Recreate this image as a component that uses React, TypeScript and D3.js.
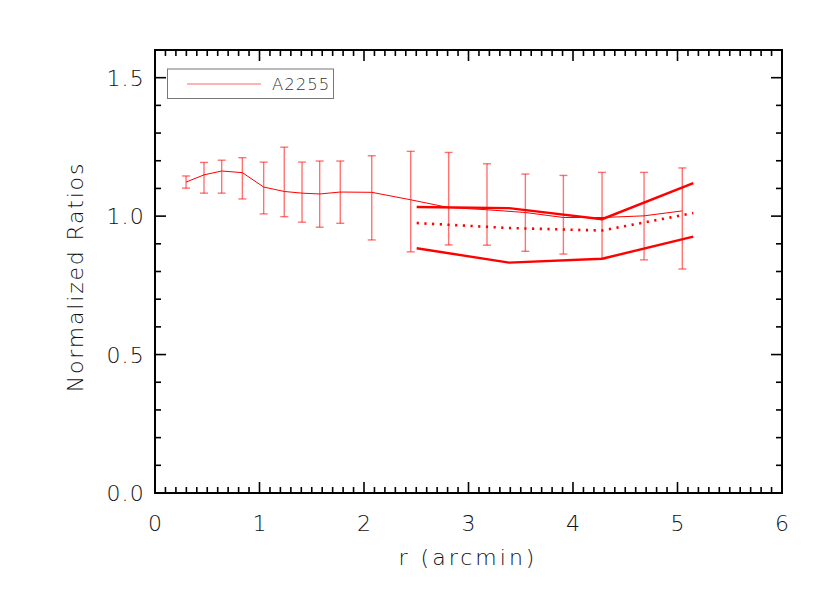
import React from "react";
import * as d3 from "d3";

const rVals = [0.297, 0.469, 0.638, 0.836, 1.04, 1.237, 1.407, 1.576, 1.773, 2.074, 2.447, 2.81, 3.177, 3.544, 3.908, 4.278, 4.68, 5.046];
const ratioVals = [1.123, 1.149, 1.163, 1.157, 1.105, 1.089, 1.083, 1.08, 1.087, 1.086, 1.059, 1.031, 1.023, 1.013, 0.995, 0.995, 1.001, 1.019];
const errHigh = [1.145, 1.194, 1.202, 1.211, 1.195, 1.249, 1.195, 1.199, 1.199, 1.218, 1.234, 1.23, 1.189, 1.152, 1.147, 1.158, 1.158, 1.174];
const errLow = [1.101, 1.083, 1.083, 1.062, 1.008, 0.998, 0.978, 0.96, 0.974, 0.914, 0.871, 0.896, 0.895, 0.873, 0.863, 0.846, 0.842, 0.809];

const bandR = [2.504, 3.388, 4.278, 5.151];
const bandUpper = [1.033, 1.029, 0.989, 1.119];
const bandMid = [0.975, 0.957, 0.948, 1.011];
const bandLower = [0.884, 0.832, 0.846, 0.926];

const xTicks = [0, 1, 2, 3, 4, 5, 6];
const yTicks = [0, 0.5, 1.0, 1.5];
const legendLabel = "A2255";
const xTitle = "r (arcmin)";
const yTitle = "Normalized Ratios";

const FONT = "'DejaVu Sans', 'Liberation Sans', sans-serif";
const TXT = "#111";

export default function App() {
  const L = 155, R = 782, T = 50, B = 493;
  const x = d3.scaleLinear().domain([0, 6]).range([L, R]);
  const y = d3.scaleLinear().domain([0, 1.6]).range([B, T]);

  const line = d3.line<[number, number]>().x((d) => x(d[0])).y((d) => y(d[1]));
  const thin = line(rVals.map((r, i) => [r, ratioVals[i]] as [number, number])) || "";
  const up = line(bandR.map((r, i) => [r, bandUpper[i]] as [number, number])) || "";
  const mid = line(bandR.map((r, i) => [r, bandMid[i]] as [number, number])) || "";
  const lo = line(bandR.map((r, i) => [r, bandLower[i]] as [number, number])) || "";

  const xMinor = d3.range(0, 61).map((i) => i / 10);
  const yMinor = d3.range(0, 17).map((i) => i / 10);
  const MAJ = 11, MIN = 6;

  return (
    <svg width={830} height={593} style={{ position: "absolute", left: 0, top: 0, background: "#fff" }} fontFamily={FONT}>
      <rect x={0} y={0} width={830} height={593} fill="#fff" />
      {/* error bars */}
      <g stroke="#ff0000" strokeOpacity={0.55} strokeWidth={1.4} fill="none">
        {rVals.map((r, i) => (
          <g key={i}>
            <line x1={x(r)} x2={x(r)} y1={y(errHigh[i])} y2={y(errLow[i])} />
            <line x1={x(r) - 4} x2={x(r) + 4} y1={y(errHigh[i])} y2={y(errHigh[i])} />
            <line x1={x(r) - 4} x2={x(r) + 4} y1={y(errLow[i])} y2={y(errLow[i])} />
          </g>
        ))}
      </g>
      <path d={thin} fill="none" stroke="#ff0000" strokeWidth={1} />
      <path d={up} fill="none" stroke="#ff0000" strokeWidth={2.4} />
      <path d={lo} fill="none" stroke="#ff0000" strokeWidth={2.4} />
      <path d={mid} fill="none" stroke="#ff0000" strokeWidth={2.6} strokeDasharray="2.2 5.5" />

      {/* frame */}
      <rect x={L} y={T} width={R - L} height={B - T} fill="none" stroke="#000" strokeWidth={2} />
      <g stroke="#000" strokeWidth={1.6}>
        {xMinor.map((v, i) => {
          const len = i % 10 === 0 ? MAJ : MIN;
          return (
            <g key={"xm" + i}>
              <line x1={x(v)} x2={x(v)} y1={B} y2={B - len} />
              <line x1={x(v)} x2={x(v)} y1={T} y2={T + len} />
            </g>
          );
        })}
        {yMinor.map((v, i) => {
          const len = i % 5 === 0 ? MAJ : MIN;
          return (
            <g key={"ym" + i}>
              <line x1={L} x2={L + len} y1={y(v)} y2={y(v)} />
              <line x1={R} x2={R - len} y1={y(v)} y2={y(v)} />
            </g>
          );
        })}
      </g>

      {/* tick labels */}
      <g fill={TXT} fontSize={22} fontWeight={200}>
        {xTicks.map((v) => (
          <text key={"xt" + v} x={x(v)} y={531} textAnchor="middle">{v}</text>
        ))}
        {yTicks.map((v) => (
          <text key={"yt" + v} x={145} y={y(v) + 8} textAnchor="end" letterSpacing={1.2}>{v.toFixed(1)}</text>
        ))}
      </g>
      <text x={468} y={565} textAnchor="middle" fontSize={22} fontWeight={200} fill={TXT} letterSpacing={3}>{xTitle}</text>
      <text transform={`translate(83, 277) rotate(-90)`} textAnchor="middle" fontSize={22} fontWeight={200} fill={TXT} letterSpacing={1.8}>{yTitle}</text>

      {/* legend */}
      <rect x={167.5} y={69} width={166} height={29.5} fill="#fff" stroke="#777" strokeWidth={1} />
      <line x1={187} x2={261} y1={84} y2={84} stroke="#ff0000" strokeOpacity={0.6} strokeWidth={1} />
      <text x={272} y={90} fontSize={16.5} fontWeight={200} fill="#333" letterSpacing={1}>{legendLabel}</text>
    </svg>
  );
}
